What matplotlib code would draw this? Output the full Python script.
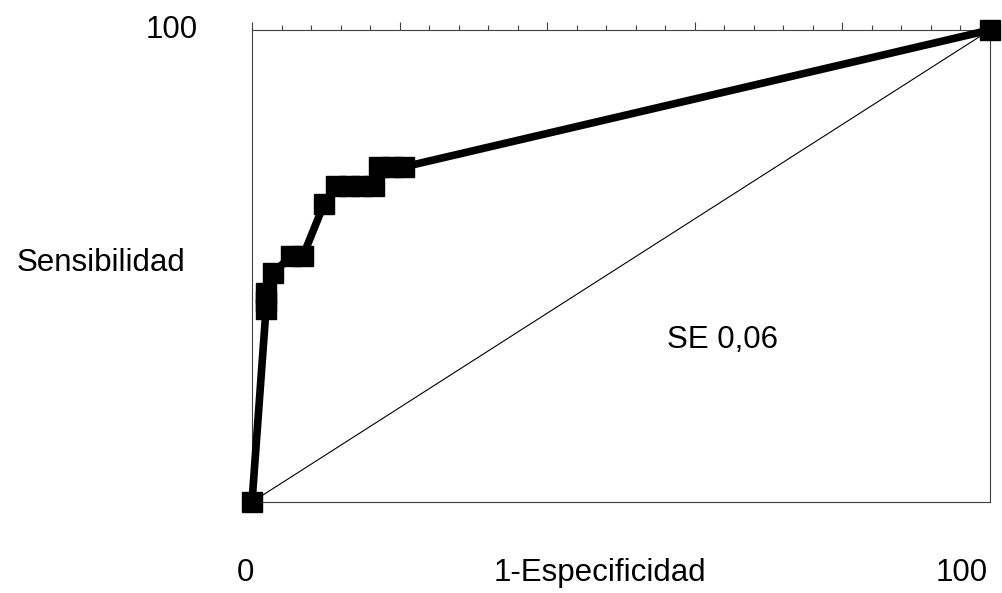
import matplotlib
matplotlib.use("Agg")
import matplotlib.pyplot as plt
from matplotlib.ticker import MultipleLocator

plt.rcParams['font.family'] = ['Liberation Sans', 'DejaVu Sans']

# --- ROC points (1-Especificidad, Sensibilidad), in % ---
fpr = [0, 1.9, 1.9, 1.9, 2.85, 5.3, 6.9, 9.75, 11.4, 13.1, 14.8, 16.5, 17.2, 19.0, 20.6, 100]
tpr = [0, 40.9, 42.6, 44.3, 48.5, 52.1, 52.1, 63.1, 66.9, 66.9, 66.9, 66.9, 71.0, 71.0, 71.0, 100]

# reference diagonal
diag_x = [0, 100]
diag_y = [0, 100]

fig = plt.figure(figsize=(10.02, 5.93), dpi=100)
ax = fig.add_axes([252 / 1002, 91 / 593, 738 / 1002, 472 / 593])

ax.plot(diag_x, diag_y, color='black', linewidth=0.8)
ax.plot(fpr, tpr, color='black', linewidth=5.5, marker='s', markersize=14.5,
        clip_on=False, zorder=3)

ax.set_xlim(0, 100)
ax.set_ylim(0, 100)

for s in ax.spines.values():
    s.set_linewidth(0.8)
    s.set_color('#404040')

ax.set_xticks(range(0, 101, 20))
ax.xaxis.set_minor_locator(MultipleLocator(4))
ax.set_yticks([])
ax.tick_params(axis='x', which='both', top=True, bottom=False,
               labeltop=False, labelbottom=False, direction='out', color='#404040')
ax.tick_params(axis='x', which='major', length=6, width=0.8)
ax.tick_params(axis='x', which='minor', length=3.5, width=0.8)

fs = 22.5
ax.text(-0.073, 1.0, '100', transform=ax.transAxes, ha='right', va='center', fontsize=fs)
ax.text(-0.09, 0.506, 'Sensibilidad', transform=ax.transAxes, ha='right', va='center', fontsize=fs)
ax.text(-0.0095, -0.15, '0', transform=ax.transAxes, ha='center', va='center', fontsize=fs)
ax.text(0.471, -0.15, '1-Especificidad', transform=ax.transAxes, ha='center', va='center', fontsize=fs)
ax.text(0.961, -0.15, '100', transform=ax.transAxes, ha='center', va='center', fontsize=fs)
ax.text(0.637, 0.343, 'SE 0,06', transform=ax.transAxes, ha='center', va='center', fontsize=fs)

fig.savefig('out.png', dpi=100)
